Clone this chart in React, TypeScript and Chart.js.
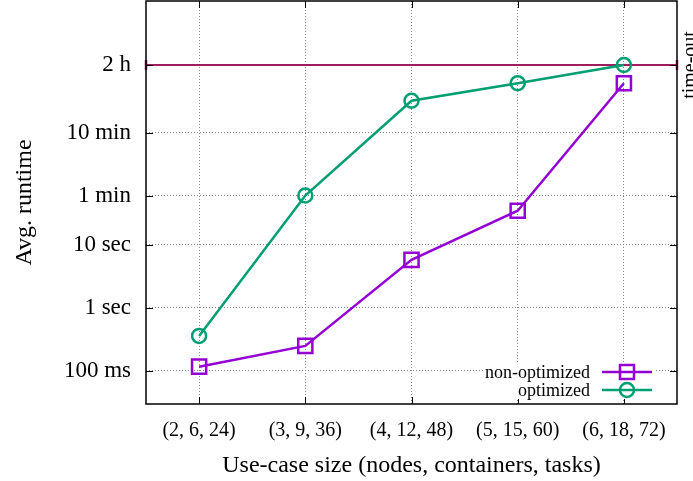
import React, { useEffect, useRef } from 'react';
import { Chart, registerables } from 'chart.js';

Chart.register(...registerables);

// ---- data ----
const categories = ['(2, 6, 24)', '(3, 9, 36)', '(4, 12, 48)', '(5, 15, 60)', '(6, 18, 72)'];
const seriesNames = ['non-optimized', 'optimized'];
// average runtime in seconds
const nonOptimized = [0.117, 0.25, 5.8, 35, 3700];
const optimized = [0.36, 61, 1950, 3700, 7200];
const yTickValues = [0.1, 1, 10, 60, 600, 7200];
const yTickLabels = ['100 ms', '1 sec', '10 sec', '1 min', '10 min', '2 h'];
const timeOutValue = 7200;
const timeOutLabel = 'time-out';
const xTitle = 'Use-case size (nodes, containers, tasks)';
const yTitle = 'Avg. runtime';

const FONT = "'Liberation Serif', 'Times New Roman', serif";
const PURPLE = '#9400d3';
const GREEN = '#009e73';
const TIMEOUT = '#a01c5c';
const GRID = '#8a8a8a';

const xs = categories.map((_, i) => i + 1);

const decorPlugin = {
  id: 'decor',
  afterDatasetsDraw(chart: any) {
    const { ctx, chartArea: a, scales } = chart;
    const x = scales.x;
    const y = scales.y;
    ctx.save();
    // inner tick marks
    ctx.strokeStyle = '#000';
    ctx.lineWidth = 1;
    ctx.beginPath();
    yTickValues.forEach((v) => {
      const py = Math.round(y.getPixelForValue(v)) + 0.5;
      ctx.moveTo(a.left, py);
      ctx.lineTo(a.left + 7, py);
      ctx.moveTo(a.right, py);
      ctx.lineTo(a.right - 7, py);
    });
    xs.forEach((v) => {
      const px = Math.round(x.getPixelForValue(v)) + 0.5;
      ctx.moveTo(px, a.bottom);
      ctx.lineTo(px, a.bottom - 7);
      ctx.moveTo(px, a.top);
      ctx.lineTo(px, a.top + 7);
    });
    ctx.stroke();

    // legend (inside, bottom right)
    const ds = chart.data.datasets;
    const boxL = a.right - 193;
    const boxR = a.right - 22;
    const rows = [a.bottom - 32, a.bottom - 14];
    ctx.fillStyle = '#fff';
    ctx.fillRect(boxL, rows[0] - 10, boxR - boxL, rows[1] - rows[0] + 19);
    ctx.font = `18px ${FONT}`;
    ctx.textAlign = 'right';
    ctx.textBaseline = 'middle';
    [0, 1].forEach((i) => {
      const d = ds[i];
      const ry = rows[i];
      ctx.fillStyle = '#000';
      ctx.fillText(seriesNames[i], a.right - 87, ry + 1);
      ctx.strokeStyle = d.borderColor;
      ctx.lineWidth = 2.5;
      ctx.beginPath();
      ctx.moveTo(a.right - 75, ry);
      ctx.lineTo(a.right - 25, ry);
      ctx.stroke();
      const mx = a.right - 50;
      ctx.beginPath();
      if (d.pointStyle === 'rect') {
        ctx.rect(mx - 7, ry - 7, 14, 14);
      } else {
        ctx.arc(mx, ry, 7, 0, Math.PI * 2);
      }
      ctx.stroke();
    });

    // frame
    ctx.strokeStyle = '#000';
    ctx.lineWidth = 1.5;
    ctx.strokeRect(a.left, a.top, a.right - a.left, a.bottom - a.top);

    // time-out label
    const ty = y.getPixelForValue(timeOutValue);
    ctx.translate(a.right + 18.5, ty);
    ctx.rotate(-Math.PI / 2);
    ctx.fillStyle = '#000';
    ctx.font = `20px ${FONT}`;
    ctx.textAlign = 'center';
    ctx.textBaseline = 'alphabetic';
    ctx.fillText(timeOutLabel, 0, 0);
    ctx.restore();
  },
};

export default function App() {
  const ref = useRef<HTMLCanvasElement | null>(null);

  useEffect(() => {
    if (!ref.current) return;
    const chart = new Chart(ref.current, {
      type: 'line',
      data: {
        datasets: [
          {
            label: seriesNames[0],
            data: xs.map((x, i) => ({ x, y: nonOptimized[i] })),
            borderColor: PURPLE,
            borderWidth: 2.5,
            pointStyle: 'rect',
            pointRadius: 10,
            pointHoverRadius: 10,
            pointBorderWidth: 2.5,
            pointBorderColor: PURPLE,
            pointBackgroundColor: 'rgba(0,0,0,0)',
            tension: 0,
          },
          {
            label: seriesNames[1],
            data: xs.map((x, i) => ({ x, y: optimized[i] })),
            borderColor: GREEN,
            borderWidth: 2.5,
            pointStyle: 'circle',
            pointRadius: 7,
            pointHoverRadius: 7,
            pointBorderWidth: 2.5,
            pointBorderColor: GREEN,
            pointBackgroundColor: 'rgba(0,0,0,0)',
            tension: 0,
          },
          {
            label: timeOutLabel,
            data: [
              { x: 0.5, y: timeOutValue },
              { x: 5.5, y: timeOutValue },
            ],
            borderColor: TIMEOUT,
            borderWidth: 2,
            pointStyle: 'line',
            pointRotation: 90,
            pointRadius: 5,
            pointHoverRadius: 5,
            pointBorderWidth: 2.5,
            pointBorderColor: TIMEOUT,
            clip: false,
          },
        ] as any,
      },
      options: {
        animation: false,
        responsive: false,
        events: [],
        layout: { autoPadding: false, padding: { left: 0, top: 1, right: 16, bottom: 0 } },
        plugins: { legend: { display: false }, tooltip: { enabled: false } },
        scales: {
          x: {
            type: 'linear',
            min: 0.5,
            max: 5.5,
            afterBuildTicks: (s: any) => {
              s.ticks = xs.map((v) => ({ value: v }));
            },
            afterFit: (s: any) => {
              s.height = 77;
              s.paddingLeft = 0;
              s.paddingRight = 0;
            },
            ticks: {
              autoSkip: false,
              maxRotation: 0,
              padding: 15,
              color: '#000',
              font: { family: FONT, size: 20 },
              callback: (v: any) => categories[Math.round(Number(v)) - 1] ?? '',
            },
            grid: { color: GRID, lineWidth: 1, drawTicks: false },
            border: { display: false, dash: [1, 2] },
            title: {
              display: true,
              text: xTitle,
              color: '#000',
              font: { family: FONT, size: 24 },
              padding: { top: 0, bottom: 1 },
            },
          },
          y: {
            type: 'logarithmic',
            min: 0.0299,
            max: 74650,
            afterBuildTicks: (s: any) => {
              s.ticks = yTickValues.map((v) => ({ value: v }));
            },
            afterFit: (s: any) => {
              s.width = 146;
              s.paddingTop = 0;
              s.paddingBottom = 0;
            },
            ticks: {
              autoSkip: false,
              padding: 15,
              color: '#000',
              font: { family: FONT, size: 23 },
              callback: (v: any) => {
                const i = yTickValues.findIndex((t) => Math.abs(t - Number(v)) / t < 1e-6);
                return i >= 0 ? yTickLabels[i] : '';
              },
            },
            grid: { color: GRID, lineWidth: 1, drawTicks: false },
            border: { display: false, dash: [1, 2] },
            title: {
              display: true,
              text: yTitle,
              color: '#000',
              font: { family: FONT, size: 24 },
              padding: { top: 10, bottom: 0 },
            },
          },
        },
      } as any,
      plugins: [decorPlugin],
    });
    return () => chart.destroy();
  }, []);

  return (
    <div style={{ position: 'absolute', left: 0, top: 0, width: 693, height: 481, background: '#fff' }}>
      <canvas ref={ref} width={693} height={481} style={{ display: 'block' }} />
    </div>
  );
}
